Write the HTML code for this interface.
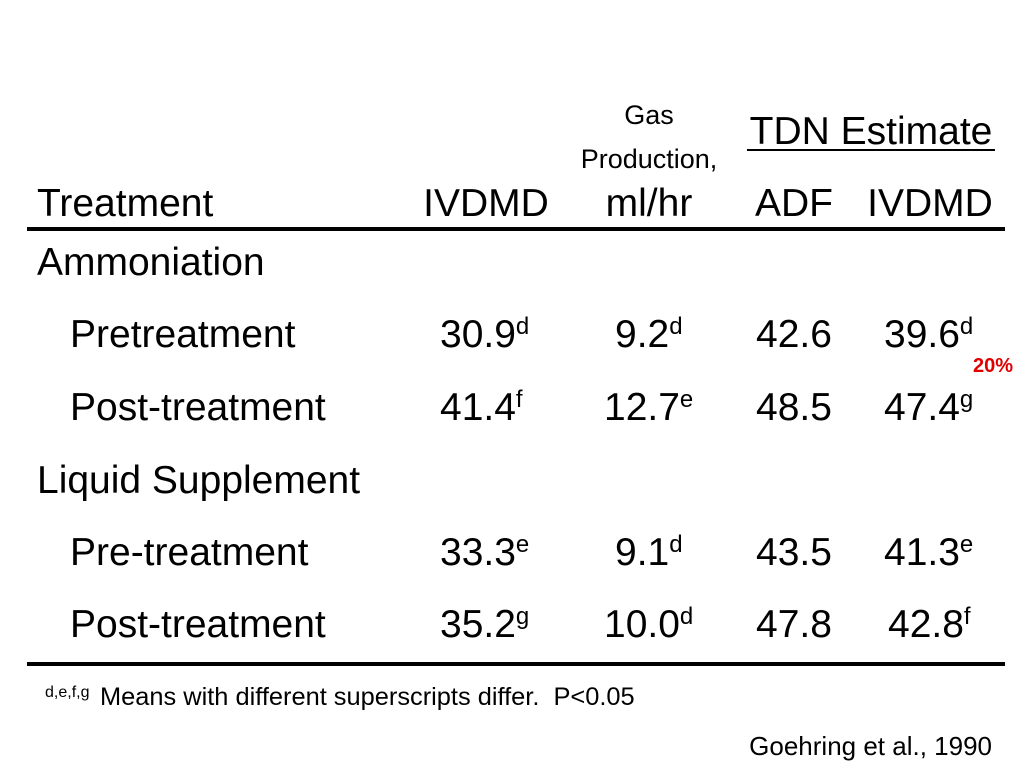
<!DOCTYPE html>
<html><head><meta charset="utf-8"><style>
html,body{margin:0;padding:0;background:#fff;width:1024px;height:768px;overflow:hidden}
svg text{font-family:"Liberation Sans",Arial,sans-serif;fill:#000}
</style></head><body>
<svg width="1024" height="768" viewBox="0 0 1024 768">
<g>
<text x="649" y="124" font-size="27" text-anchor="middle">Gas</text>
<text x="649" y="168" font-size="27" text-anchor="middle">Production,</text>
<text x="871" y="144" font-size="39" text-anchor="middle">TDN Estimate</text>
<rect x="747" y="149" width="248" height="2" fill="#000"/>
<text x="37" y="216" font-size="39">Treatment</text>
<text x="486" y="216" font-size="39" text-anchor="middle">IVDMD</text>
<text x="649" y="216" font-size="39" text-anchor="middle">ml/hr</text>
<text x="794" y="216" font-size="39" text-anchor="middle">ADF</text>
<text x="930" y="216" font-size="39" text-anchor="middle">IVDMD</text>
</g>
<rect x="27" y="227" width="978" height="4" fill="#000"/>
<g font-size="39">
<text x="37" y="275">Ammoniation</text>
<text x="70" y="347">Pretreatment</text>
<text x="440" y="347">30.9<tspan font-size="24" dy="-13">d</tspan></text>
<text x="615" y="347">9.2<tspan font-size="24" dy="-13">d</tspan></text>
<text x="756" y="347">42.6</text>
<text x="884" y="347">39.6<tspan font-size="24" dy="-13">d</tspan></text>
<text x="1013" y="372" font-size="20" font-weight="bold" text-anchor="end" style="fill:#e00000">20%</text>
<text x="70" y="420">Post-treatment</text>
<text x="440" y="420">41.4<tspan font-size="24" dy="-13">f</tspan></text>
<text x="604" y="420">12.7<tspan font-size="24" dy="-13">e</tspan></text>
<text x="756" y="420">48.5</text>
<text x="884" y="420">47.4<tspan font-size="24" dy="-13">g</tspan></text>
<text x="37" y="493">Liquid Supplement</text>
<text x="70" y="565">Pre-treatment</text>
<text x="440" y="565">33.3<tspan font-size="24" dy="-13">e</tspan></text>
<text x="615" y="565">9.1<tspan font-size="24" dy="-13">d</tspan></text>
<text x="756" y="565">43.5</text>
<text x="884" y="565">41.3<tspan font-size="24" dy="-13">e</tspan></text>
<text x="70" y="637">Post-treatment</text>
<text x="440" y="637">35.2<tspan font-size="24" dy="-13">g</tspan></text>
<text x="604" y="637">10.0<tspan font-size="24" dy="-13">d</tspan></text>
<text x="756" y="637">47.8</text>
<text x="888" y="637">42.8<tspan font-size="24" dy="-13">f</tspan></text>
</g>
<rect x="27" y="662" width="978" height="4" fill="#000"/>
<text x="45" y="697" font-size="16">d,e,f,g</text>
<text x="100" y="705" font-size="25.4" xml:space="preserve" style="white-space:pre">Means with different superscripts differ.  P&lt;0.05</text>
<text x="992" y="755" font-size="26" text-anchor="end">Goehring et al., 1990</text>
</svg>
</body></html>
